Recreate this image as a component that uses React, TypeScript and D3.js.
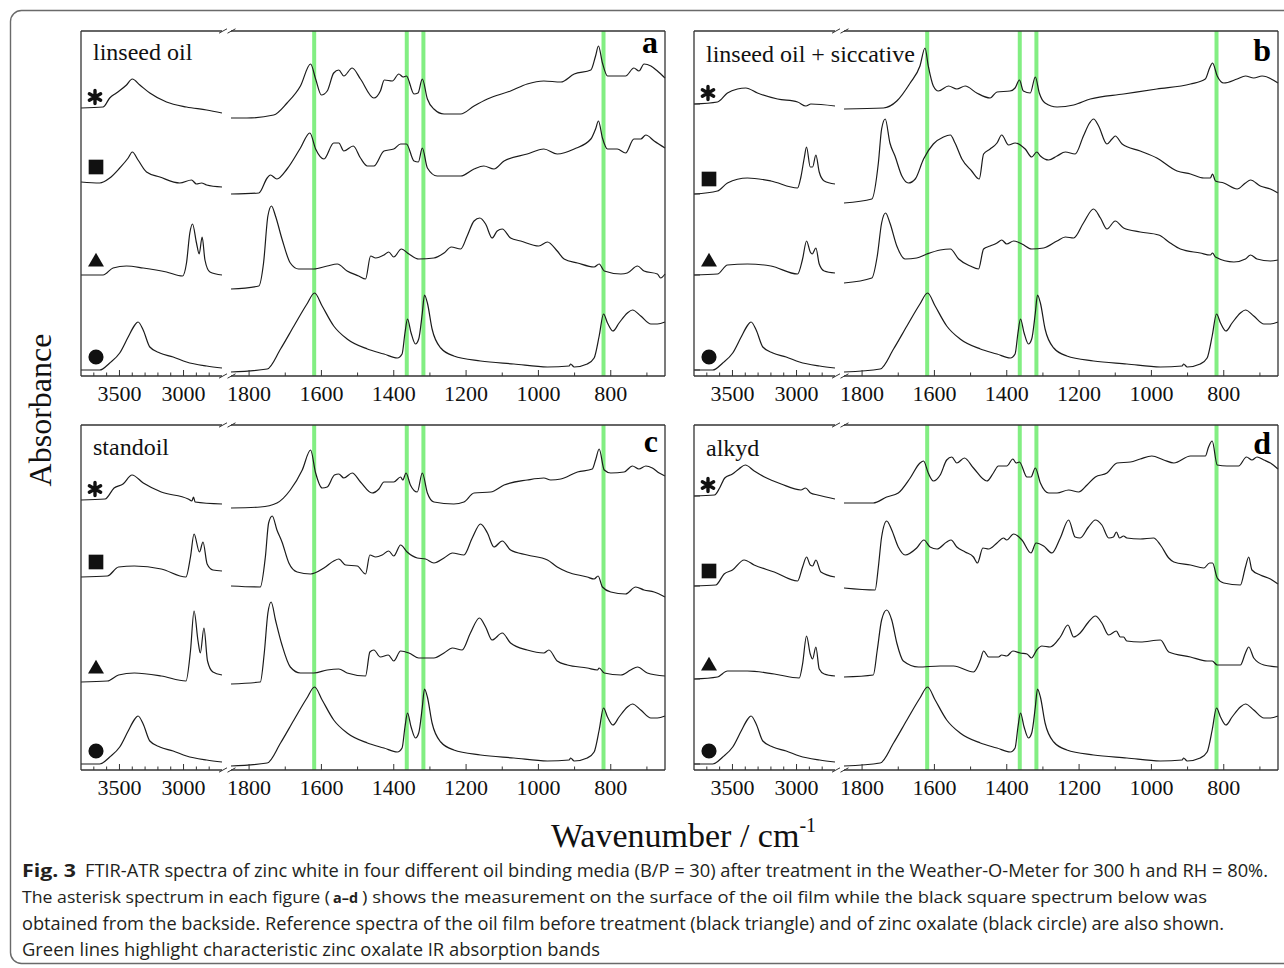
import * as d3 from "d3";

type Pt = [number, number];

const leftMajor = [3500, 3000];
const leftMinor = [3700, 3600, 3400, 3300, 3200, 3100, 2900, 2800];
const rightMajor = [1800, 1600, 1400, 1200, 1000, 800];
const rightMinor = [1700, 1500, 1300, 1100, 900, 700];
const oxalateBands = [1620, 1364, 1318, 820];

// zinc oxalate reference (black circle), same in every panel
const oxalateL: Pt[] = [[3800,6],[3654,6],[3576,13],[3498,23],[3432,39],[3380,51],[3355,54],[3315,46],[3263,29],[3185,23],[3081,19],[2977,14],[2820,10],[2700,8]];
const oxalateR: Pt[] = [[1850,4],[1750,7],[1713,27],[1676,50],[1640,72],[1619,83],[1598,70],[1566,50],[1529,37],[1473,27],[1427,22],[1390,18],[1377,22],[1369,43],[1362,57],[1352,43],[1340,32],[1331,37],[1321,63],[1315,81],[1307,73],[1294,47],[1270,28],[1234,20],[1160,15],[1068,12],[975,9],[915,10],[911,12],[901,9],[865,12],[846,18],[832,40],[820,62],[809,53],[794,45],[777,53],[754,63],[740,66],[717,60],[689,52],[671,52],[650,54]];

// a: linseed oil
const aStarL: Pt[] = [[3800,268],[3628,269],[3576,278],[3524,283],[3445,291],[3400,297],[3341,291],[3263,283],[3133,274],[2977,269],[2820,266],[2700,263]];
const aStarR: Pt[] = [[1850,258],[1806,258],[1732,261],[1695,273],[1658,290],[1630,312],[1616,297],[1600,281],[1584,285],[1566,303],[1552,306],[1538,300],[1515,308],[1492,297],[1455,278],[1437,285],[1426,296],[1404,295],[1386,302],[1374,299],[1365,300],[1344,282],[1333,283],[1321,297],[1307,277],[1289,267],[1261,262],[1215,262],[1178,270],[1141,277],[1077,285],[1031,292],[985,295],[938,294],[901,302],[855,306],[842,320],[834,330],[823,313],[809,300],[782,300],[759,300],[736,308],[722,305],[708,312],[689,310],[671,305],[650,298]];
const aSqL: Pt[] = [[3800,194],[3654,193],[3576,198],[3498,208],[3432,218],[3400,224],[3355,216],[3289,204],[3185,199],[3029,193],[2938,196],[2899,192],[2860,193],[2820,191],[2700,189]];
const aSqR: Pt[] = [[1850,182],[1773,183],[1750,198],[1741,201],[1723,197],[1695,207],[1658,228],[1632,243],[1616,227],[1593,217],[1566,233],[1552,233],[1538,225],[1512,230],[1492,218],[1473,210],[1455,210],[1427,225],[1400,227],[1381,232],[1365,232],[1344,215],[1332,214],[1321,228],[1307,208],[1280,200],[1215,200],[1178,207],[1151,210],[1123,207],[1095,215],[1031,222],[985,227],[948,222],[901,227],[855,237],[842,247],[834,255],[823,238],[809,227],[782,227],[759,223],[736,237],[717,237],[703,241],[680,235],[650,228]];
const aTriL: Pt[] = [[3800,101],[3628,101],[3550,108],[3445,110],[3315,108],[3133,104],[3008,100],[2977,113],[2951,143],[2930,152],[2899,133],[2878,122],[2855,139],[2833,116],[2794,104],[2700,101]];
const aTriR: Pt[] = [[1850,87],[1773,90],[1760,113],[1748,160],[1738,170],[1727,160],[1709,137],[1686,113],[1663,107],[1621,107],[1584,110],[1556,112],[1529,105],[1497,100],[1478,97],[1464,120],[1450,118],[1427,121],[1414,124],[1400,119],[1379,127],[1358,122],[1331,117],[1289,118],[1261,123],[1241,129],[1215,127],[1197,140],[1178,155],[1162,158],[1146,152],[1128,138],[1114,145],[1100,147],[1077,138],[1049,135],[999,130],[975,134],[948,125],[929,117],[892,113],[846,109],[832,112],[818,105],[772,102],[754,103],[726,110],[708,105],[671,102],[662,98],[650,102]];

// b: linseed oil + siccative
const bStarL: Pt[] = [[3800,272],[3617,274],[3539,283],[3461,287],[3396,288],[3305,283],[3148,277],[2992,274],[2927,270],[2888,272],[2700,270]];
const bStarR: Pt[] = [[1850,267],[1741,268],[1704,275],[1667,293],[1640,310],[1626,328],[1617,310],[1603,290],[1589,285],[1561,290],[1538,287],[1515,290],[1483,283],[1446,278],[1427,284],[1391,285],[1377,288],[1365,296],[1354,285],[1335,283],[1321,299],[1310,283],[1294,273],[1261,269],[1215,271],[1169,277],[1077,282],[985,287],[892,292],[851,297],[839,308],[831,313],[818,300],[800,293],[763,297],[740,300],[717,298],[694,300],[650,293]];
const bSqL: Pt[] = [[3800,182],[3617,185],[3539,193],[3383,198],[3200,195],[2992,188],[2966,199],[2940,218],[2922,229],[2893,209],[2875,209],[2849,221],[2823,204],[2784,195],[2700,192]];
const bSqR: Pt[] = [[1850,173],[1773,177],[1755,213],[1746,247],[1736,257],[1723,233],[1709,220],[1690,200],[1672,193],[1653,197],[1630,217],[1603,232],[1575,239],[1556,241],[1543,233],[1524,217],[1497,205],[1476,197],[1464,222],[1446,227],[1427,233],[1414,241],[1395,231],[1377,233],[1349,227],[1331,219],[1317,224],[1307,220],[1284,216],[1261,220],[1238,224],[1211,222],[1188,240],[1171,253],[1160,257],[1146,250],[1123,232],[1109,237],[1100,240],[1081,232],[1031,225],[985,218],[929,205],[892,202],[855,198],[837,198],[831,202],[823,195],[800,193],[763,187],[740,193],[726,196],[699,190],[671,187],[650,183]];
const bTriL: Pt[] = [[3800,101],[3617,102],[3539,111],[3383,112],[3200,110],[2992,102],[2953,117],[2922,135],[2893,124],[2878,122],[2849,128],[2823,112],[2784,105],[2700,103]];
const bTriR: Pt[] = [[1850,93],[1773,98],[1758,120],[1746,153],[1735,163],[1723,153],[1704,130],[1681,117],[1649,118],[1621,122],[1584,126],[1556,127],[1533,117],[1501,110],[1478,107],[1464,127],[1446,130],[1427,133],[1414,136],[1400,132],[1381,135],[1358,132],[1331,127],[1298,128],[1261,135],[1238,139],[1215,138],[1188,153],[1160,167],[1141,158],[1123,147],[1100,155],[1077,148],[1031,144],[980,141],[948,133],[920,127],[865,123],[837,121],[831,123],[823,119],[772,114],[740,117],[726,121],[708,117],[671,115],[650,116]];

// c: standoil
const cStarL: Pt[] = [[3800,270],[3612,271],[3542,282],[3472,286],[3402,295],[3314,287],[3174,278],[2964,271],[2935,269],[2922,273],[2910,268],[2700,266]];
const cStarR: Pt[] = [[1850,262],[1769,263],[1723,267],[1686,280],[1653,300],[1630,320],[1616,297],[1598,282],[1584,283],[1564,295],[1552,296],[1538,292],[1515,297],[1492,288],[1460,277],[1441,281],[1427,288],[1400,288],[1381,293],[1375,290],[1366,297],[1354,285],[1335,278],[1321,297],[1307,277],[1289,268],[1234,266],[1206,268],[1178,277],[1132,278],[1095,285],[1031,290],[985,292],[966,290],[938,291],[892,298],[851,301],[842,310],[832,321],[818,300],[800,297],[763,298],[740,304],[722,301],[703,304],[685,302],[666,297],[650,294]];
const cSqL: Pt[] = [[3800,193],[3594,194],[3507,203],[3384,204],[3174,201],[2981,193],[2946,213],[2918,236],[2876,218],[2848,228],[2816,206],[2771,200],[2700,199]];
const cSqR: Pt[] = [[1850,184],[1769,183],[1755,213],[1746,247],[1736,254],[1723,240],[1709,228],[1690,207],[1667,198],[1630,196],[1593,202],[1566,209],[1552,211],[1533,205],[1501,204],[1478,196],[1466,215],[1450,213],[1432,215],[1414,219],[1400,214],[1381,225],[1363,218],[1335,212],[1312,211],[1289,207],[1261,212],[1238,217],[1206,215],[1183,232],[1160,246],[1141,237],[1123,223],[1100,229],[1077,220],[1031,215],[975,210],[948,203],[920,198],[865,193],[846,191],[835,194],[823,183],[800,178],[759,176],[731,183],[708,180],[680,178],[650,173]];
const cTriL: Pt[] = [[3800,88],[3594,89],[3507,95],[3384,97],[3174,94],[2981,89],[2946,119],[2918,159],[2887,129],[2869,117],[2841,142],[2813,109],[2771,98],[2700,95]];
const cTriR: Pt[] = [[1850,86],[1769,88],[1758,117],[1748,157],[1739,168],[1727,150],[1709,125],[1686,103],[1658,97],[1621,97],[1584,100],[1552,101],[1529,97],[1478,94],[1466,118],[1455,120],[1437,113],[1415,115],[1400,109],[1381,119],[1358,117],[1331,112],[1289,112],[1261,117],[1238,122],[1211,120],[1188,137],[1163,152],[1146,143],[1128,130],[1100,137],[1077,127],[1031,120],[985,117],[971,120],[948,109],[920,105],[865,102],[837,100],[832,102],[818,97],[772,95],[745,100],[726,103],[699,97],[650,94]];

// d: alkyd
const dStarL: Pt[] = [[3800,274],[3640,275],[3600,282],[3560,292],[3500,296],[3450,301],[3400,305],[3330,299],[3250,293],[3120,286],[2966,280],[2930,282],[2890,277],[2836,275],[2700,271]];
const dStarR: Pt[] = [[1850,267],[1769,267],[1732,273],[1700,277],[1667,292],[1640,307],[1630,309],[1617,297],[1603,289],[1584,295],[1566,310],[1552,313],[1538,307],[1517,312],[1492,302],[1455,289],[1437,297],[1423,304],[1400,304],[1383,311],[1374,307],[1365,308],[1344,293],[1333,293],[1321,302],[1307,287],[1284,277],[1261,277],[1229,280],[1201,278],[1178,285],[1155,293],[1123,297],[1095,307],[1058,308],[1031,311],[999,314],[966,310],[938,307],[892,314],[851,314],[842,323],[832,329],[818,305],[791,304],[759,304],[737,313],[722,310],[708,313],[689,310],[671,307],[650,301]];
const dSqL: Pt[] = [[3800,184],[3630,185],[3565,196],[3500,200],[3409,210],[3331,205],[3174,198],[2992,189],[2953,203],[2922,213],[2893,205],[2875,204],[2849,210],[2810,198],[2700,193]];
const dSqR: Pt[] = [[1850,182],[1764,180],[1755,203],[1746,233],[1732,249],[1718,240],[1700,223],[1681,215],[1649,222],[1629,230],[1612,223],[1593,221],[1566,228],[1554,230],[1538,223],[1515,218],[1492,213],[1481,207],[1466,222],[1450,221],[1427,227],[1409,232],[1400,230],[1381,236],[1358,230],[1333,217],[1319,227],[1298,224],[1275,217],[1252,232],[1229,250],[1211,233],[1197,232],[1174,243],[1155,250],[1137,245],[1118,232],[1105,233],[1097,238],[1088,232],[1077,234],[1068,232],[1031,231],[994,232],[975,225],[952,212],[938,208],[892,205],[855,202],[839,207],[831,207],[818,192],[800,187],[754,185],[740,203],[731,213],[722,200],[699,195],[671,191],[650,186]];
const dTriL: Pt[] = [[3800,91],[3617,93],[3539,99],[3383,99],[3174,96],[2979,92],[2953,106],[2922,134],[2893,116],[2875,111],[2849,123],[2823,101],[2784,96],[2700,94]];
const dTriR: Pt[] = [[1850,93],[1769,95],[1758,120],[1746,150],[1732,160],[1718,150],[1704,127],[1686,109],[1644,103],[1584,104],[1547,104],[1492,98],[1473,110],[1464,119],[1450,113],[1423,113],[1414,115],[1400,114],[1383,119],[1363,117],[1344,116],[1332,112],[1317,120],[1303,124],[1280,123],[1252,133],[1231,145],[1215,133],[1197,137],[1174,148],[1155,154],[1137,147],[1118,135],[1097,139],[1086,133],[1077,133],[1068,129],[1031,128],[975,130],[952,118],[892,113],[846,109],[832,109],[818,105],[754,105],[740,117],[731,123],[717,112],[689,105],[650,103]];

type Marker = "asterisk" | "square" | "triangle" | "circle";
type Series = { marker: Marker; left: Pt[]; right: Pt[] };

const panels = [
  { name: "linseed oil", letter: "a", col: 0, row: 0, nameY: 60, letterY: 53, yTicks: false,
    series: [
      { marker: "asterisk", left: aStarL, right: aStarR },
      { marker: "square", left: aSqL, right: aSqR },
      { marker: "triangle", left: aTriL, right: aTriR },
      { marker: "circle", left: oxalateL, right: oxalateR },
    ] as Series[] },
  { name: "linseed oil + siccative", letter: "b", col: 1, row: 0, nameY: 62, letterY: 61, yTicks: true,
    series: [
      { marker: "asterisk", left: bStarL, right: bStarR },
      { marker: "square", left: bSqL, right: bSqR },
      { marker: "triangle", left: bTriL, right: bTriR },
      { marker: "circle", left: oxalateL, right: oxalateR },
    ] as Series[] },
  { name: "standoil", letter: "c", col: 0, row: 1, nameY: 455, letterY: 452, yTicks: false,
    series: [
      { marker: "asterisk", left: cStarL, right: cStarR },
      { marker: "square", left: cSqL, right: cSqR },
      { marker: "triangle", left: cTriL, right: cTriR },
      { marker: "circle", left: oxalateL, right: oxalateR },
    ] as Series[] },
  { name: "alkyd", letter: "d", col: 1, row: 1, nameY: 456, letterY: 454, yTicks: true,
    series: [
      { marker: "asterisk", left: dStarL, right: dStarR },
      { marker: "square", left: dSqL, right: dSqR },
      { marker: "triangle", left: dTriL, right: dTriR },
      { marker: "circle", left: oxalateL, right: oxalateR },
    ] as Series[] },
];

// caption pieces: [text, x, y, width, bold, size]
const caption: [string, number, number, number, boolean, number][] = [
  ["Fig. 3", 22, 877, 54, true, 17.5],
  ["FTIR-ATR spectra of zinc white in four different oil binding media (B/P = 30) after treatment in the Weather-O-Meter for 300 h and RH = 80%.", 85, 877, 1183, false, 17.5],
  ["The asterisk spectrum in each figure (", 22, 903, 308, false, 17],
  ["a–d", 333, 903, 25, true, 15],
  [") shows the measurement on the surface of the oil film while the black square spectrum below was", 362, 903, 845, false, 17],
  ["obtained from the backside. Reference spectra of the oil film before treatment (black triangle) and of zinc oxalate (black circle) are also shown.", 22, 930, 1202, false, 17.5],
  ["Green lines highlight characteristic zinc oxalate IR absorption bands", 22, 956, 578, false, 17.5],
];

const panelX = [81, 694];
const panelY = [31, 425];
const W = 584;
const H = 345;
const LW = 141; // width of the 3800-2700 part
const RS = 150; // start of the 1850-650 part

const serif = "'Liberation Serif', 'Times New Roman', serif";
const sans = "'Open Sans', 'Noto Sans', sans-serif";

const markerGen: Record<Marker, { type: d3.SymbolType; size: number; dy: number }> = {
  asterisk: { type: d3.symbolAsterisk, size: 120, dy: 11 },
  square: { type: d3.symbolSquare, size: 215, dy: 15 },
  triangle: { type: d3.symbolTriangle, size: 110, dy: 13 },
  circle: { type: d3.symbolCircle, size: 180, dy: 13 },
};

function Panel({ p }: { p: (typeof panels)[number] }) {
  const x0 = panelX[p.col];
  const y0 = panelY[p.row];
  const xl = d3.scaleLinear().domain([3800, 2700]).range([x0, x0 + LW]);
  const xr = d3.scaleLinear().domain([1850, 650]).range([x0 + RS, x0 + W]);
  const y = d3.scaleLinear().domain([0, H]).range([y0 + H, y0]);
  const lineL = d3.line<Pt>().x((d) => xl(d[0])).y((d) => y(d[1])).curve(d3.curveMonotoneX);
  const lineR = d3.line<Pt>().x((d) => xr(d[0])).y((d) => y(d[1])).curve(d3.curveMonotoneX);
  const yb = y0 + H;
  const axisCol = "#333";
  const breaks = [x0 + LW + 1, x0 + RS + 0.5];

  return (
    <g>
      {oxalateBands.map((b) => (
        <line key={b} x1={xr(b)} x2={xr(b)} y1={y0} y2={yb} stroke="#82ee82" strokeWidth={4} />
      ))}
      {p.series.map((s, i) => (
        <g key={i} fill="none" stroke="#1b1b1b" strokeWidth={1.2} strokeLinejoin="round">
          <path d={lineL(s.left) || ""} />
          <path d={lineR(s.right) || ""} />
        </g>
      ))}
      {p.series.map((s, i) => {
        const m = markerGen[s.marker];
        const path = d3.symbol(m.type, m.size)() || "";
        const cy = y(s.left[0][1]) - m.dy;
        return s.marker === "asterisk" ? (
          <path key={i} d={path} transform={`translate(${x0 + 14},${cy})`} stroke="#111" strokeWidth={3.4} strokeLinecap="round" fill="none" />
        ) : (
          <path key={i} d={path} transform={`translate(${x0 + 15},${cy})`} fill="#111" />
        );
      })}
      {p.yTicks &&
        p.series.map((s, i) => (
          <line key={i} x1={x0} x2={x0 + 6} y1={y(s.left[0][1])} y2={y(s.left[0][1])} stroke={axisCol} strokeWidth={1} />
        ))}
      <g stroke={axisCol} strokeWidth={1.3} fill="none">
        <line x1={x0} x2={x0} y1={y0} y2={yb} />
        <line x1={x0 + W} x2={x0 + W} y1={y0} y2={yb} />
        <line x1={x0} x2={x0 + LW} y1={y0} y2={y0} />
        <line x1={x0 + RS} x2={x0 + W} y1={y0} y2={y0} />
        <line x1={x0} x2={x0 + LW} y1={yb} y2={yb} />
        <line x1={x0 + RS} x2={x0 + W} y1={yb} y2={yb} />
        {[y0, yb].map((yy) =>
          breaks.map((bx) => <line key={`${yy}-${bx}`} x1={bx - 4} x2={bx + 4} y1={yy + 2.2} y2={yy - 2.2} strokeWidth={1} />)
        )}
      </g>
      <g stroke={axisCol} strokeWidth={1}>
        {leftMajor.map((t) => <line key={`lM${t}`} x1={xl(t)} x2={xl(t)} y1={yb} y2={yb - 6} />)}
        {leftMinor.map((t) => <line key={`lm${t}`} x1={xl(t)} x2={xl(t)} y1={yb} y2={yb - 3.5} />)}
        {rightMajor.map((t) => <line key={`rM${t}`} x1={xr(t)} x2={xr(t)} y1={yb} y2={yb - 6} />)}
        {rightMinor.map((t) => <line key={`rm${t}`} x1={xr(t)} x2={xr(t)} y1={yb} y2={yb - 3.5} />)}
      </g>
      <g fontFamily={serif} fontSize={22} fill="#111" textAnchor="middle">
        {leftMajor.map((t) => <text key={`l${t}`} x={xl(t)} y={yb + 25}>{t}</text>)}
        {rightMajor.map((t) => <text key={`r${t}`} x={xr(t)} y={yb + 25}>{t}</text>)}
      </g>
      <text x={x0 + 12} y={p.nameY} fontFamily={serif} fontSize={24} fill="#111">{p.name}</text>
      <text x={x0 + W - 7} y={p.letterY} fontFamily={serif} fontSize={32} fontWeight="bold" textAnchor="end" fill="#000">{p.letter}</text>
    </g>
  );
}

export default function App() {
  return (
    <svg width={1284} height={968} style={{ position: "absolute", left: 0, top: 0, background: "#fff" }}>
      <rect x={10.5} y={10.5} width={1300} height={953} rx={11} fill="none" stroke="#6a6a6a" strokeWidth={1.4} />
      {panels.map((p) => <Panel key={p.letter} p={p} />)}
      <text transform="translate(51,410) rotate(-90)" fontFamily={serif} fontSize={32} textAnchor="middle" fill="#111">Absorbance</text>
      <text x={551} y={847} fontFamily={serif} fontSize={34} fill="#111">
        Wavenumber / cm<tspan fontSize={20} dy={-15}>-1</tspan>
      </text>
      <g fontFamily={sans} fill="#231f20">
        {caption.map(([t, x, yy, w, bold, fs], i) => (
          <text key={i} x={x} y={yy} fontSize={fs} textLength={w} lengthAdjust="spacingAndGlyphs" fontWeight={bold ? "bold" : "normal"}>{t}</text>
        ))}
      </g>
    </svg>
  );
}
